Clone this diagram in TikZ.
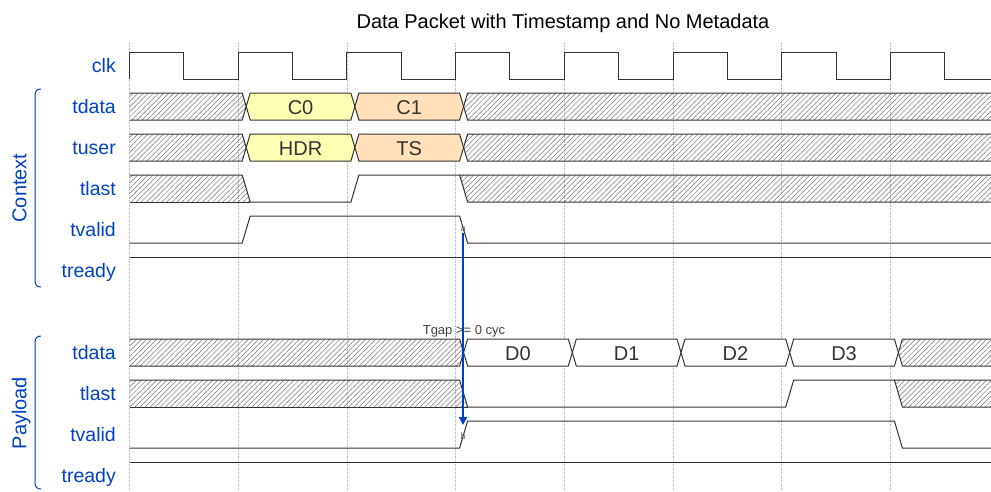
\documentclass[tikz,border=0pt]{standalone}
\usepackage{fontspec}
\setmainfont{Liberation Sans}
\usepackage{tikz}
\usetikzlibrary{arrows.meta,patterns.meta}
\definecolor{sigblue}{HTML}{0041C4}
\definecolor{busyellow}{HTML}{FFFFB4}
\definecolor{busorange}{HTML}{FFE0B9}
\definecolor{gridgray}{HTML}{BBBBBB}

\newcommand{\tk}[1]{129.5+108.7*(#1)}
\newcommand{\hatchstart}[2]{%
  \fill[hatch] (129.5,#2) -- ({\tk{#1}+4},#2) -- ({\tk{#1}+8},#2+13.5) -- ({\tk{#1}+4},#2+27) -- (129.5,#2+27) -- cycle;
  \draw[wave] (129.5,#2) -- ({\tk{#1}+4},#2) -- ({\tk{#1}+8},#2+13.5) -- ({\tk{#1}+4},#2+27) -- (129.5,#2+27);}
\newcommand{\hatchend}[2]{%
  \fill[hatch] (991,#2) -- ({\tk{#1}+12},#2) -- ({\tk{#1}+8},#2+13.5) -- ({\tk{#1}+12},#2+27) -- (991,#2+27) -- cycle;
  \draw[wave] (991,#2) -- ({\tk{#1}+12},#2) -- ({\tk{#1}+8},#2+13.5) -- ({\tk{#1}+12},#2+27) -- (991,#2+27);}
\newcommand{\busbox}[6]{%
  \draw[wave, fill=#4] ({\tk{#1}+12},#3) -- ({\tk{#2}+4},#3) -- ({\tk{#2}+8},#3+13.5) -- ({\tk{#2}+4},#3+27) -- ({\tk{#1}+12},#3+27) -- ({\tk{#1}+8},#3+13.5) -- cycle;
  \node[buslabel] (#6) at ({(\tk{#1}+\tk{#2})/2+8},#3+21.3) {#5};}
\newcommand{\xtolow}[2]{%
  \fill[hatch] (129.5,#2) -- ({\tk{#1}+4},#2) -- ({\tk{#1}+12},#2+27) -- (129.5,#2+27) -- cycle;
  \draw[wave] (129.5,#2) -- ({\tk{#1}+4},#2) -- ({\tk{#1}+12},#2+27);
  \draw[wave] (129.5,#2+27) -- ({\tk{#1}+12},#2+27);}
\newcommand{\highx}[2]{%
  \fill[hatch] ({\tk{#1}+4},#2) -- (991,#2) -- (991,#2+27) -- ({\tk{#1}+12},#2+27) -- cycle;
  \draw[wave] (991,#2) -- ({\tk{#1}+4},#2) -- ({\tk{#1}+12},#2+27) -- (991,#2+27);}

\begin{document}
\begin{tikzpicture}[
  x=1pt, y=-1pt,
  wave/.style={draw=black!80, line width=1pt},
  hatch/.style={pattern={Lines[angle=45,distance=3.6pt,line width=0.5pt]}, pattern color=black!55},
  gridline/.style={draw=gridgray, densely dotted, line width=0.6pt},
  sig/.style={anchor=base east, inner sep=0pt, text=sigblue, font=\fontsize{19.5}{20}\selectfont},
  grp/.style={anchor=base, inner sep=0pt, rotate=90, text=sigblue, font=\fontsize{20}{20}\selectfont},
  brace/.style={draw=sigblue, line width=1pt},
  buslabel/.style={anchor=base, inner sep=0pt, text=black!80, font=\fontsize{20}{20}\selectfont},
  edgemark/.style={inner sep=0.5pt, text=black!60, font=\fontsize{9}{9}\selectfont},
  arr/.style={-{Triangle[length=8pt,width=8pt]}, draw=sigblue, fill=sigblue, line width=1.5pt},
]
  \useasboundingbox (0,0) rectangle (991,491);
  \clip (0,0) rectangle (991,491);

  \node[anchor=base, inner sep=0pt, font=\fontsize{20}{20}\selectfont] (title) at (563,28.3) {Data Packet with Timestamp and No Metadata};

  \foreach \k in {0,...,7} \draw[gridline] ({\tk{\k}},43) -- ({\tk{\k}},491);

  \node[sig] (clk) at (116,72.7) {clk};
  \node[sig] (ctdata) at (116,113.7) {tdata};
  \node[sig] (ctuser) at (116,154.7) {tuser};
  \node[sig] (ctlast) at (116,195.7) {tlast};
  \node[sig] (ctvalid) at (116,236.7) {tvalid};
  \node[sig] (ctready) at (116,277.7) {tready};
  \node[sig] (ptdata) at (116,359.7) {tdata};
  \node[sig] (ptlast) at (116,400.7) {tlast};
  \node[sig] (ptvalid) at (116,441.7) {tvalid};
  \node[sig] (ptready) at (116,482.7) {tready};

  \draw[brace] (41,89) .. controls (36.5,89) and (35,91.5) .. (35,96) -- (35,280) .. controls (35,284.5) and (36.5,287) .. (41,287);
  \draw[brace] (41,336) .. controls (36.5,336) and (35,338.5) .. (35,343) -- (35,482) .. controls (35,486.5) and (36.5,489) .. (41,489);
  \node[grp] (context) at (26.5,188) {Context};
  \node[grp] (payload) at (26.5,413) {Payload};

  \draw[wave] (129.5,79) \foreach \k in {0,...,7} { -- ({\tk{\k}},52) -- ({\tk{\k}+54.35},52) -- ({\tk{\k}+54.35},79) -- ({\tk{\k+1}},79) };

  \hatchstart{1}{93}
  \busbox{1}{2}{93}{busyellow}{C0}{c0}
  \busbox{2}{3}{93}{busorange}{C1}{c1}
  \hatchend{3}{93}

  \hatchstart{1}{134}
  \busbox{1}{2}{134}{busyellow}{HDR}{hdr}
  \busbox{2}{3}{134}{busorange}{TS}{ts}
  \hatchend{3}{134}

  \xtolow{1}{175}
  \draw[wave] ({\tk{1}+12},202) -- ({\tk{2}+4},202) -- ({\tk{2}+12},175) -- ({\tk{3}+4},175);
  \highx{3}{175}

  \draw[wave] (129.5,243) -- ({\tk{1}+4},243) -- ({\tk{1}+12},216) -- ({\tk{3}+4},216) -- ({\tk{3}+12},243) -- (991,243);
  \draw[wave] (129.5,257) -- (991,257);

  \hatchstart{3}{339}
  \busbox{3}{4}{339}{white}{D0}{d0}
  \busbox{4}{5}{339}{white}{D1}{d1}
  \busbox{5}{6}{339}{white}{D2}{d2}
  \busbox{6}{7}{339}{white}{D3}{d3}
  \hatchend{7}{339}

  \xtolow{3}{380}
  \draw[wave] ({\tk{3}+12},407) -- ({\tk{6}+4},407) -- ({\tk{6}+12},380) -- ({\tk{7}+4},380);
  \highx{7}{380}

  \draw[wave] (129.5,448) -- ({\tk{3}+4},448) -- ({\tk{3}+12},421) -- ({\tk{7}+4},421) -- ({\tk{7}+12},448) -- (991,448);
  \draw[wave] (129.5,462) -- (991,462);

  \node[edgemark] (a) at (463,229.5) {a};
  \node[edgemark] (b) at (463,436) {b};
  \draw[arr, shorten >=7pt] (a) -- (b);
  \node[font=\fontsize{13}{13}\selectfont, text=black!75, inner sep=0pt] (tgap) at (464,331.5) {Tgap >= 0 cyc};
\end{tikzpicture}
\end{document}
